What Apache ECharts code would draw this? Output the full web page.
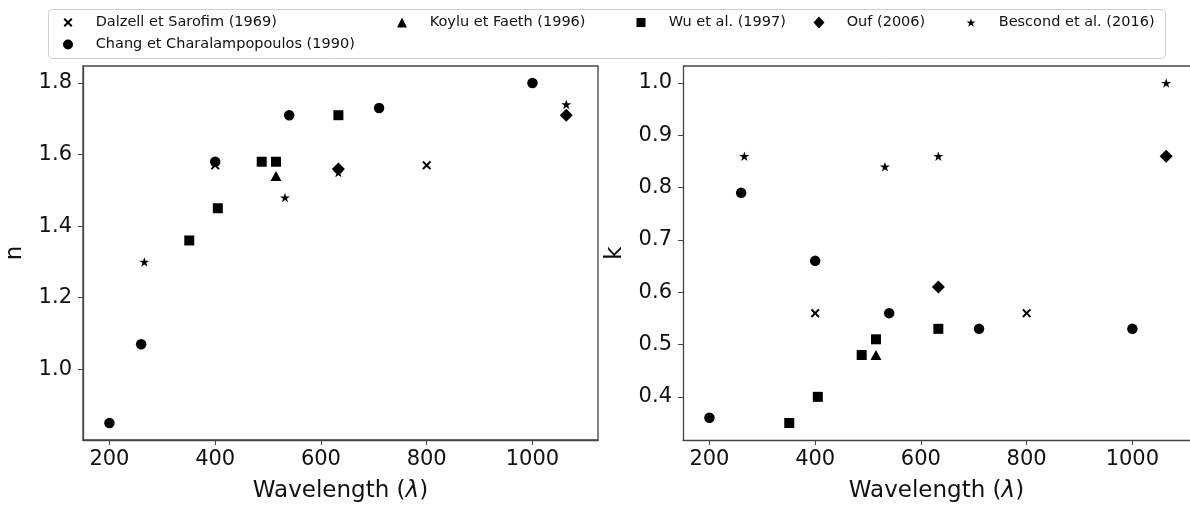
<!DOCTYPE html>
<html><head><meta charset="utf-8">
<script src="https://cdn.jsdelivr.net/npm/echarts@6/dist/echarts.min.js"></script>
<style>html,body{margin:0;padding:0;background:#fff}#c{width:1190px;height:508px}</style>
</head><body><div id="c"></div>
<script>
// ---- data ----
const seriesNames = ['Dalzell et Sarofim (1969)', 'Chang et Charalampopoulos (1990)', 'Koylu et Faeth (1996)', 'Wu et al. (1997)', 'Ouf (2006)', 'Bescond et al. (2016)'];
const dalzellWl = [400, 800];
const dalzellN = [1.57, 1.57];
const dalzellK = [0.56, 0.56];
const changWl = [200, 260, 400, 540, 710, 1000];
const changN = [0.85, 1.07, 1.58, 1.71, 1.73, 1.80];
const changK = [0.36, 0.79, 0.66, 0.56, 0.53, 0.53];
const koyluWl = [515];
const koyluN = [1.54];
const koyluK = [0.48];
const wuWl = [351, 405, 488, 515, 633];
const wuN = [1.36, 1.45, 1.58, 1.58, 1.71];
const wuK = [0.35, 0.40, 0.48, 0.51, 0.53];
const oufWl = [633, 1064];
const oufN = [1.56, 1.71];
const oufK = [0.61, 0.86];
const bescondWl = [266, 532, 633, 1064];
const bescondN = [1.30, 1.48, 1.55, 1.74];
const bescondK = [0.86, 0.84, 0.86, 1.00];
const xTicks = [200, 400, 600, 800, 1000];
const nTicks = [1.0, 1.2, 1.4, 1.6, 1.8];
const kTicks = [0.4, 0.5, 0.6, 0.7, 0.8, 0.9, 1.0];

// ---- styling ----
const FONT = 'DejaVu Sans';
const X_PATH = 'path://M0,1.6 L1.6,0 L5,3.4 L8.4,0 L10,1.6 L6.6,5 L10,8.4 L8.4,10 L5,6.6 L1.6,10 L0,8.4 L3.4,5 Z';
const STAR_PATH = 'path://M50,2 L61.23,36.55 L97.55,36.55 L68.16,57.9 L79.39,92.45 L50,71.1 L20.61,92.45 L31.84,57.9 L2.45,36.55 L38.77,36.55 Z';
const symbols = [
  {symbol: X_PATH, size: 9},
  {symbol: 'circle', size: 10.5},
  {symbol: 'triangle', size: [11, 10]},
  {symbol: 'rect', size: 10},
  {symbol: 'diamond', size: [13, 13]},
  {symbol: STAR_PATH, size: [10, 9.5]}
];
const wls = [dalzellWl, changWl, koyluWl, wuWl, oufWl, bescondWl];
const ns = [dalzellN, changN, koyluN, wuN, oufN, bescondN];
const ks = [dalzellK, changK, koyluK, wuK, oufK, bescondK];
const zip = (a, b) => a.map((v, i) => [v, b[i]]);

const series = [];
seriesNames.forEach((name, i) => {
  [ns, ks].forEach((vals, ax) => {
    series.push({
      type: 'scatter', name, xAxisIndex: ax, yAxisIndex: ax,
      symbol: symbols[i].symbol, symbolSize: symbols[i].size,
      itemStyle: {color: '#000', opacity: 1}, emphasis: {disabled: true},
      data: zip(wls[i], vals[i]), z: 2 + i
    });
  });
});

const axisLine = {show: true, lineStyle: {color: '#444', width: 1.3}};
function xAxis(gi, max) {
  return {
    type: 'value', gridIndex: gi, min: 150, max,
    name: 'Wavelength ({i|λ})', nameLocation: 'middle', nameGap: 40,
    nameTextStyle: {fontFamily: FONT, fontSize: 23, color: '#111', rich: {i: {fontFamily: FONT, fontSize: 23, fontStyle: 'italic', color: '#111'}}},
    axisLine, splitLine: {show: false},
    axisTick: {show: true, length: 5, inside: false, lineStyle: {color: '#444', width: 1}, customValues: xTicks},
    axisLabel: {fontFamily: FONT, fontSize: 21, color: '#111', margin: 9, customValues: xTicks, formatter: v => String(v)}
  };
}
function yAxis(gi, min, max, ticks, name) {
  return {
    type: 'value', gridIndex: gi, min, max,
    name, nameLocation: 'middle', nameGap: 56, nameRotate: 90,
    nameTextStyle: {fontFamily: FONT, fontSize: 23, color: '#111'},
    axisLine, splitLine: {show: false},
    axisTick: {show: true, length: 5, inside: false, lineStyle: {color: '#444', width: 1}, customValues: ticks},
    axisLabel: {fontFamily: FONT, fontSize: 21, color: '#111', margin: 11, customValues: ticks, formatter: v => v.toFixed(1)}
  };
}

// legend: one component per entry
const legendPos = [
  {x: 68, y: 23, icon: X_PATH, w: 9, h: 9},
  {x: 68, y: 45, icon: 'circle', w: 10, h: 10},
  {x: 402, y: 23, icon: 'triangle', w: 10, h: 10},
  {x: 641, y: 23, icon: 'rect', w: 9, h: 9},
  {x: 819, y: 23, icon: 'diamond', w: 11, h: 12},
  {x: 971, y: 23, icon: STAR_PATH, w: 9, h: 9}
];
const legends = seriesNames.map((name, i) => {
  const p = legendPos[i];
  return {
    left: p.x - p.w / 2, top: p.y - 9.5, padding: 0, itemWidth: p.w, itemHeight: p.h,
    selectedMode: false, orient: 'horizontal',
    data: [{name, icon: p.icon, itemStyle: {color: '#000', opacity: 1}}],
    textStyle: {fontFamily: FONT, fontSize: 14.5, color: '#111', padding: [0, 0, 0, 27.7 - p.w / 2 - 5], lineHeight: 18}
  };
});

const chart = echarts.init(document.getElementById('c'), null, {renderer: 'canvas'});
chart.setOption({
  animation: false,
  backgroundColor: '#fff',
  graphic: [
    {type: 'rect', shape: {x: 48.5, y: 9.5, width: 1117, height: 49, r: 4}, style: {fill: '#fff', stroke: '#d0d0d0', lineWidth: 1}, z: -1},
    {type: 'line', shape: {x1: 683, y1: 66, x2: 1190, y2: 66}, style: {stroke: '#444', lineWidth: 1.3}, z: 1}
  ],
  legend: legends,
  grid: [
    {left: 83, top: 66, width: 515, height: 376, show: true, borderColor: '#444', borderWidth: 1.3, backgroundColor: 'transparent'},
    {left: 683, top: 66, right: 0, height: 376}
  ],
  xAxis: [xAxis(0, 1124), xAxis(1, 1109)],
  yAxis: [
    yAxis(0, 0.8025, 1.8475, nTicks, 'n'),
    yAxis(1, 0.3175, 1.0325, kTicks, 'k')
  ],
  series
});
</script>
</body></html>
